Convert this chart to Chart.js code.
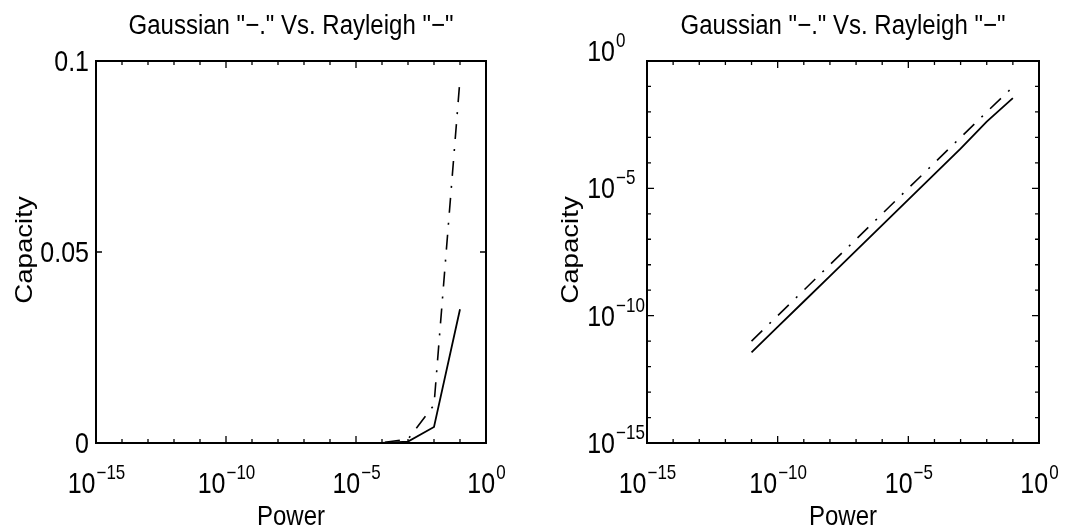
<!DOCTYPE html>
<html>
<head>
<meta charset="utf-8">
<script src="https://cdn.jsdelivr.net/npm/chart.js@4.4.1/dist/chart.umd.min.js"></script>
<style>
  body { margin: 0; background: #fff; }
  .wrap { display: flex; width: 1082px; height: 529px; }
  .panel { position: relative; width: 541px; height: 529px; }
</style>
</head>
<body>
<div class="wrap">
  <div class="panel"><canvas id="linChart"></canvas></div>
  <div class="panel"><canvas id="logChart"></canvas></div>
</div>
<script>
// Transmit power, one point per decade
const power = [1e-11, 1e-10, 1e-9, 1e-8, 1e-7, 1e-6, 1e-5, 1e-4, 1e-3, 1e-2, 1e-1];
// Capacity of the Gaussian channel ("-.") and the Rayleigh fading channel ("-")
const gaussian = [1e-11, 1e-10, 1e-9, 1e-8, 1e-7, 1e-6, 1e-5, 1e-4, 9.995e-4, 0.00995, 0.0953];
const rayleigh = [3.6e-12, 3.6e-11, 3.6e-10, 3.6e-9, 3.6e-8, 3.6e-7, 3.6e-6, 3.6e-5, 3.6e-4, 0.0042, 0.035];

// Axis ticks
const xTickExps = [-15, -10, -5, 0];
const logYTickExps = [-15, -10, -5, 0];
const linYTicks = [0, 0.05, 0.1];
const linYTickLabels = ['0', '0.05', '0.1'];

const titleText = 'Gaussian "\u2212." Vs. Rayleigh "\u2212"';
const xTitle = 'Power';
const yTitle = 'Capacity';

const FONT = '"Liberation Sans", Arial, Helvetica, sans-serif';
const STRETCH = 1.15; // lettering is drawn a bit taller than wide
const BASE = 25;
const LABEL = 24;
const SUP = 17;
const SUP_RISE = 14;

function putText(ctx, str, x, y, size, align, baseline, rot) {
  ctx.save();
  ctx.translate(x, y);
  ctx.scale(1, STRETCH);
  if (rot) ctx.rotate(rot);
  ctx.font = size + 'px ' + FONT;
  ctx.fillStyle = '#000';
  ctx.textAlign = align || 'left';
  ctx.textBaseline = baseline || 'alphabetic';
  ctx.fillText(str, 0, 0);
  ctx.restore();
}

// "10" with a raised exponent; align 'center' centres the whole label, 'right' right-aligns the base
function putPow(ctx, exp, x, y, align) {
  const sup = exp < 0 ? '\u2212' + (-exp) : String(exp);
  ctx.save();
  ctx.font = BASE + 'px ' + FONT;
  const wb = ctx.measureText('10').width;
  ctx.font = SUP + 'px ' + FONT;
  const ws = ctx.measureText(sup).width;
  ctx.restore();
  const x0 = align === 'center' ? x - (wb + ws) / 2 : x - wb;
  putText(ctx, '10', x0, y, BASE, 'left');
  putText(ctx, sup, x0 + wb + 1, y - SUP_RISE, SUP, 'left');
}

// MATLAB-style boxed axes: frame, inward ticks on all sides, labels and titles
const framePlugin = {
  id: 'frame',
  afterDraw(chart, args, opts) {
    const ctx = chart.ctx;
    const a = chart.chartArea;
    const xs = chart.scales.x;
    const ys = chart.scales.y;

    ctx.save();
    ctx.strokeStyle = '#000';
    ctx.lineWidth = 2;
    ctx.strokeRect(a.left, a.top, a.right - a.left, a.bottom - a.top);

    ctx.lineWidth = 1.3;
    ctx.beginPath();
    for (let e = -15; e <= 0; e++) {
      const px = xs.getPixelForValue(Math.pow(10, e));
      const len = xTickExps.includes(e) ? 7 : 4;
      ctx.moveTo(px, a.bottom); ctx.lineTo(px, a.bottom - len);
      ctx.moveTo(px, a.top); ctx.lineTo(px, a.top + len);
    }
    if (opts.logY) {
      for (let e = -15; e <= 0; e++) {
        const py = ys.getPixelForValue(Math.pow(10, e));
        const len = logYTickExps.includes(e) ? 7 : 4;
        ctx.moveTo(a.left, py); ctx.lineTo(a.left + len, py);
        ctx.moveTo(a.right, py); ctx.lineTo(a.right - len, py);
      }
    } else {
      linYTicks.forEach(v => {
        const py = ys.getPixelForValue(v);
        ctx.moveTo(a.left, py); ctx.lineTo(a.left + 6, py);
        ctx.moveTo(a.right, py); ctx.lineTo(a.right - 6, py);
      });
    }
    ctx.stroke();
    ctx.restore();

    // tick labels
    xTickExps.forEach(e => {
      putPow(ctx, e, xs.getPixelForValue(Math.pow(10, e)), a.bottom + 50, 'center');
    });
    if (opts.logY) {
      logYTickExps.forEach(e => {
        // the top label sits a little above its tick
        const lift = e === 0 ? 10 : 0;
        putPow(ctx, e, a.left - 32, ys.getPixelForValue(Math.pow(10, e)) + 10 - lift, 'right');
      });
    } else {
      linYTicks.forEach((v, i) => {
        putText(ctx, linYTickLabels[i], a.left - 7, ys.getPixelForValue(v) + 10, BASE, 'right');
      });
    }

    const cx = (a.left + a.right) / 2;
    putText(ctx, titleText, cx, 34, LABEL, 'center');
    putText(ctx, xTitle, cx, 525, LABEL, 'center');
    putText(ctx, yTitle, opts.yTitleX, opts.yTitleY, LABEL, 'center', 'middle', -Math.PI / 2);
  }
};

function lineSets() {
  return [
    {
      label: 'Gaussian',
      data: power.map((p, i) => ({ x: p, y: gaussian[i] })),
      borderColor: '#000',
      borderWidth: 1.6,
      borderDash: [15, 10, 2, 10],
      pointRadius: 0,
      fill: false,
      tension: 0
    },
    {
      label: 'Rayleigh',
      data: power.map((p, i) => ({ x: p, y: rayleigh[i] })),
      borderColor: '#000',
      borderWidth: 1.8,
      pointRadius: 0,
      fill: false,
      tension: 0
    }
  ];
}

function makeChart(id, yScale, padding, frameOpts) {
  return new Chart(document.getElementById(id), {
    type: 'line',
    data: { datasets: lineSets() },
    options: {
      responsive: true,
      maintainAspectRatio: false,
      animation: false,
      events: [],
      layout: { padding: padding },
      scales: {
        x: { type: 'logarithmic', min: 1e-15, max: 1, display: false },
        y: Object.assign({ display: false }, yScale)
      },
      plugins: {
        legend: { display: false },
        tooltip: { enabled: false },
        frame: frameOpts
      }
    },
    plugins: [framePlugin]
  });
}

// Linear capacity axis
makeChart('linChart',
  { type: 'linear', min: 0, max: 0.1 },
  { left: 96, right: 55, top: 61, bottom: 86 },
  { logY: false, yTitleX: 25, yTitleY: 250 });

// Log capacity axis
makeChart('logChart',
  { type: 'logarithmic', min: 1e-15, max: 1 },
  { left: 106, right: 43, top: 61, bottom: 86 },
  { logY: true, yTitleX: 30, yTitleY: 250 });
</script>
</body>
</html>
